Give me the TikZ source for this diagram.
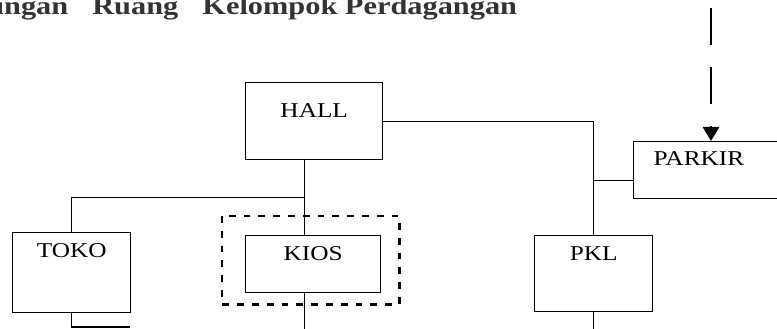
\documentclass[tikz,border=0pt]{standalone}
\usepackage{fontspec}
\setmainfont{Liberation Serif}[FakeStretch=1.2]
\usetikzlibrary{arrows.meta, positioning, calc}

\begin{document}
\begin{tikzpicture}[
  x=0.025cm, y=-0.025cm,
  box/.style={draw=black, line width=1pt, rectangle, anchor=north west, inner sep=0pt, font=\fontsize{15}{18}\selectfont},
  link/.style={line width=0.9pt},
  dashbox/.style={line width=1.6pt, dash pattern=on 0.17cm off 0.2cm},
  arr/.style={-{Triangle[length=0.35cm, width=0.4cm]}, line width=2pt, dash pattern=on 0.925cm off 0.55cm}
]
\useasboundingbox (0,0) rectangle (777,329);
\clip (0,0) rectangle (777,329);

% judul
\node[anchor=base west, inner sep=0pt, text=black!80, font=\fontsize{18}{22}\selectfont\bfseries] (title) at (-13,14) {ungan\hspace{0.6cm}Ruang\hspace{0.6cm}Kelompok Perdagangan};

% ruang
\node[box, minimum width=3.425cm, text height=0.875cm, text depth=1.05cm] (hall) at (245,82) {HALL};
\node[box, minimum width=2.95cm, text height=0.625cm, text depth=1.375cm] (toko) at (12,232) {TOKO};
\node[box, minimum width=3.375cm, text height=0.625cm, text depth=0.8cm] (kios) at (245,235) {KIOS};
\node[box, minimum width=2.95cm, text height=0.625cm, text depth=1.275cm] (pkl) at (534,235) {PKL};
\node[box, text width=3cm, align=left, inner xsep=0.5cm, text height=0.6cm, text depth=0.825cm] (parkir) at (633,141) {PARKIR};

% hubungan
\draw[link] (hall.east) -| (pkl.north);
\coordinate (pk) at ($(parkir.south west)+(0,-19)$);
\draw[link] (pk) -- (pk -| pkl.north);
\coordinate (hs) at ([xshift=-0.25cm]hall.south);
\draw[link] (hs) -- (hs |- kios.north);
\coordinate (br) at ($(hs)+(0,37)$);
\draw[link] (br) -| (toko.north);
\coordinate (bot) at (0,335);
\draw[link] (hs |- kios.south) -- (hs |- bot);
\draw[link] (pkl.south) -- (pkl.south |- bot);
\coordinate (tb) at (130,327);
\draw[link] (toko.south) |- (tb);
\draw[dashbox] ($(kios.north west)+(-23,-19)$) rectangle ($(kios.south east)+(18,11)$);

% akses parkir
\coordinate (src) at (711,8);
\draw[arr] (src) -- (src |- parkir.north);
\end{tikzpicture}
\end{document}
